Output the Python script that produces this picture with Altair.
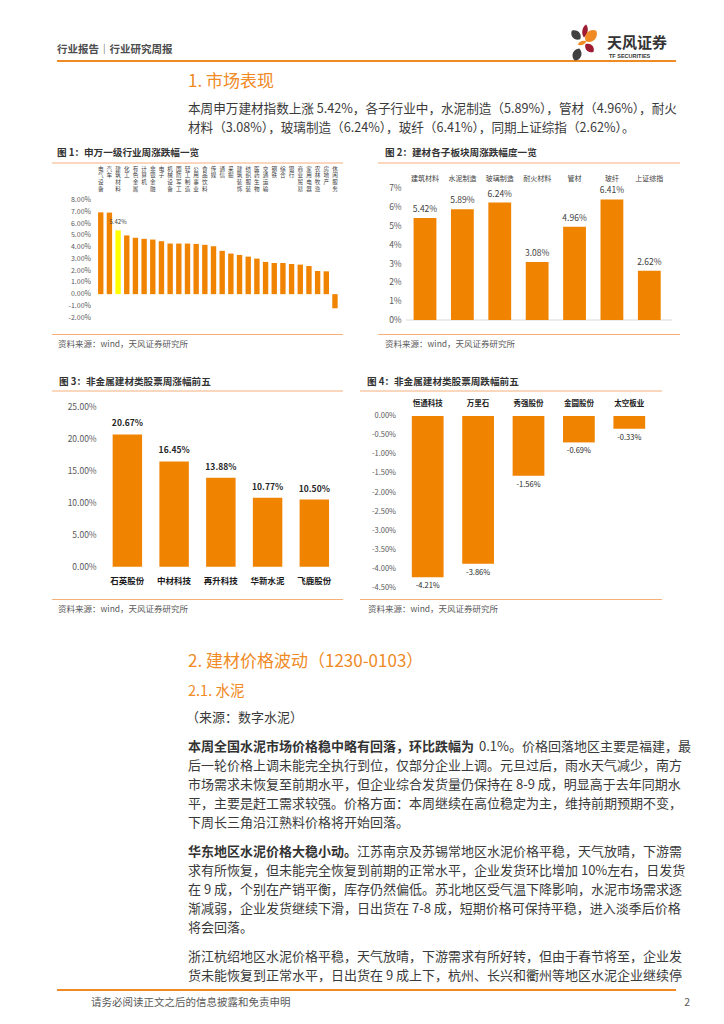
import altair as alt
import pandas as pd

# ---------------- data ----------------
ind_names = ["电气设备", "汽车", "建筑材料", "化工", "有色金属", "计算机", "非银金融", "电子",
             "机械设备", "国防军工", "轻工制造", "公用事业", "食品饮料", "传媒", "通信", "采掘",
             "建筑装饰", "纺织服装", "医药生物", "交通运输", "钢铁", "综合", "银行", "商业贸易",
             "家用电器", "农林牧渔", "房地产", "休闲服务"]
ind_chg = [6.95, 6.93, 5.42, 4.99, 4.79, 4.70, 4.64, 4.50, 4.30, 4.30, 4.30, 4.27, 4.19, 4.07,
           3.68, 3.45, 3.33, 3.19, 3.02, 2.74, 2.65, 2.65, 2.56, 2.51, 2.39, 1.97, 1.94, -1.20]
fig1_ticks = [-2, -1, 0, 1, 2, 3, 4, 5, 6, 7, 8]
fig1_tick_labels = ["-2.00%", "-1.00%", "0.00%", "1.00%", "2.00%", "3.00%", "4.00%", "5.00%",
                    "6.00%", "7.00%", "8.00%"]

sub_names = ["建筑材料", "水泥制造", "玻璃制造", "耐火材料", "管材", "玻纤", "上证综指"]
sub_chg = [5.42, 5.89, 6.24, 3.08, 4.96, 6.41, 2.62]
fig2_ticks = [0, 1, 2, 3, 4, 5, 6, 7]
fig2_tick_labels = ["0%", "1%", "2%", "3%", "4%", "5%", "6%", "7%"]

top_names = ["石英股份", "中材科技", "再升科技", "华新水泥", "飞鹿股份"]
top_chg = [20.67, 16.45, 13.88, 10.77, 10.50]
fig3_ticks = [0, 5, 10, 15, 20, 25]
fig3_tick_labels = ["0.00%", "5.00%", "10.00%", "15.00%", "20.00%", "25.00%"]

bot_names = ["恒通科技", "万里石", "秀强股份", "金圆股份", "太空板业"]
bot_chg = [-4.21, -3.86, -1.56, -0.69, -0.33]
fig4_ticks = [0, -0.5, -1.0, -1.5, -2.0, -2.5, -3.0, -3.5, -4.0, -4.5]
fig4_tick_labels = ["0.00%", "-0.50%", "-1.00%", "-1.50%", "-2.00%", "-2.50%", "-3.00%",
                    "-3.50%", "-4.00%", "-4.50%"]

header_left = "行业报告｜行业研究周报"
brand = "天风证券"
brand_en = "TF SECURITIES"
sec1_title = "1. 市场表现"
sec1_lines = ["本周申万建材指数上涨 5.42%，各子行业中，水泥制造（5.89%），管材（4.96%），耐火",
              "材料（3.08%），玻璃制造（6.24%），玻纤（6.41%），同期上证综指（2.62%）。"]
fig_titles = ["图 1：申万一级行业周涨跌幅一览", "图 2：建材各子板块周涨跌幅度一览",
              "图 3：非金属建材类股票周涨幅前五", "图 4：非金属建材类股票周跌幅前五"]
source_text = "资料来源：wind，天风证券研究所"
sec2_title = "2. 建材价格波动（1230-0103）"
sec21_title = "2.1. 水泥"
sec21_src = "（来源：数字水泥）"
p1_bold = "本周全国水泥市场价格稳中略有回落，环比跌幅为"
p1_lines = ["0.1%。价格回落地区主要是福建，最",
            "后一轮价格上调未能完全执行到位，仅部分企业上调。元旦过后，雨水天气减少，南方",
            "市场需求未恢复至前期水平，但企业综合发货量仍保持在 8-9 成，明显高于去年同期水",
            "平，主要是赶工需求较强。价格方面：本周继续在高位稳定为主，维持前期预期不变，",
            "下周长三角沿江熟料价格将开始回落。"]
p2_bold = "华东地区水泥价格大稳小动。"
p2_lines = ["江苏南京及苏锡常地区水泥价格平稳，天气放晴，下游需",
            "求有所恢复，但未能完全恢复到前期的正常水平，企业发货环比增加 10%左右，日发货",
            "在 9 成，个别在产销平衡，库存仍然偏低。苏北地区受气温下降影响，水泥市场需求逐",
            "渐减弱，企业发货继续下滑，日出货在 7-8 成，短期价格可保持平稳，进入淡季后价格",
            "将会回落。"]
p3_lines = ["浙江杭绍地区水泥价格平稳，天气放晴，下游需求有所好转，但由于春节将至，企业发",
            "货未能恢复到正常水平，日出货在 9 成上下，杭州、长兴和衢州等地区水泥企业继续停"]
footer_text = "请务必阅读正文之后的信息披露和免责申明"
page_no = "2"

# ---------------- styles ----------------
FONT = "Noto Sans CJK SC"
BAR = "#F08300"
HL = "#FFFF00"
ORANGE = "#F08A24"
LINE_LIGHT = "#F6B07A"
TEXT = "#333333"
GRAY = "#595959"
DARKRED = "#9E1B32"
DARK = "#404040"

OX, OY = 8, 8


def X(v):
    return v - OX


def Y(v):
    return v - OY


layers = []


def add_text(s, x, y, size, color=TEXT, weight="normal", align="left", baseline="middle", font=FONT):
    layers.append(
        alt.Chart(pd.DataFrame({"t": [s]}))
        .mark_text(align=align, baseline=baseline, fontSize=size, color=color,
                   fontWeight=weight, font=font)
        .encode(x=alt.value(X(x)), y=alt.value(Y(y)), text="t:N")
    )


def add_rule(x1, x2, y, color, width):
    layers.append(
        alt.Chart(pd.DataFrame({"a": [0]}))
        .mark_rule(color=color, strokeWidth=width)
        .encode(x=alt.value(X(x1)), x2=alt.value(X(x2)), y=alt.value(Y(y)))
    )


# ---------------- header ----------------
add_text(header_left, 57, 50, 10.5, color="#4D4D4D", weight="bold")
add_rule(57, 676, 61, ORANGE, 2)

NARROW = "M0,-1C0.55,-0.55 0.55,0.55 0,1C-0.55,0.55 -0.55,-0.55 0,-1Z"
WIDE = "M0,-1C0.9,-0.6 0.9,0.6 0,1C-0.9,0.6 -0.9,-0.6 0,-1Z"
petals = [
    (585, 31, 13, 10, DARKRED, NARROW),
    (591, 36, 15, 45, ORANGE, WIDE),
    (576, 35, 12, 315, DARK, WIDE),
    (582, 43, 9, 70, ORANGE, NARROW),
    (589.5, 48, 11, 315, DARKRED, WIDE),
    (577, 54.5, 13, 20, DARK, WIDE),
]
for (px, py, ln, ang, col, shp) in petals:
    layers.append(
        alt.Chart(pd.DataFrame({"a": [0]}))
        .mark_point(shape=shp, filled=True, color=col, opacity=1, strokeWidth=0)
        .encode(x=alt.value(X(px)), y=alt.value(Y(py)), size=alt.value(ln * ln),
                angle=alt.value(ang))
    )
add_text(brand, 607, 43, 15, color="#333333", weight="bold")
add_text(brand_en, 609, 56, 5.5, color="#333333", weight="bold", font="Liberation Sans")

# ---------------- section 1 ----------------
add_text(sec1_title, 188, 82, 17, color=ORANGE)
for i, ln in enumerate(sec1_lines):
    add_text(ln, 188, 109 + i * 19, 12.6, color="#3A3A3A")

# figure frames
add_text(fig_titles[0], 57, 153, 9.6, color=TEXT, weight="bold")
add_text(fig_titles[1], 385, 153, 9.6, color=TEXT, weight="bold")
add_rule(52, 343, 163, LINE_LIGHT, 1)
add_rule(378, 680, 163, LINE_LIGHT, 1)
add_rule(52, 343, 334.5, LINE_LIGHT, 1)
add_rule(378, 680, 334.5, LINE_LIGHT, 1)
add_text(source_text, 58, 343.5, 8.5, color=GRAY)
add_text(source_text, 385, 343.5, 8.5, color=GRAY)

add_text(fig_titles[2], 59, 382, 9.6, color=TEXT, weight="bold")
add_text(fig_titles[3], 367, 382, 9.6, color=TEXT, weight="bold")
add_rule(52, 343, 391, LINE_LIGHT, 1)
add_rule(360, 662, 391, LINE_LIGHT, 1)
add_rule(52, 343, 599.5, LINE_LIGHT, 1)
add_rule(360, 662, 599.5, LINE_LIGHT, 1)
add_text(source_text, 58, 608.5, 8.5, color=GRAY)
add_text(source_text, 368, 609, 8.5, color=GRAY)

# ---------------- figure 1 ----------------
df1 = pd.DataFrame({"name": ind_names, "chg": ind_chg})
df1["vlabel"] = ["\n".join(list(n)) for n in ind_names]
df1["lab"] = [f"{v:.2f}%" for v in ind_chg]
t1 = pd.DataFrame({"v": fig1_ticks, "lab": fig1_tick_labels})
xs1 = alt.Scale(domain=ind_names, range=[X(96.4), X(339.3)], paddingInner=0.38, paddingOuter=0.19)
ys1 = alt.Scale(domain=[-2, 8], range=[Y(317.7), Y(200.0)], nice=False, zero=False)
b1 = alt.Chart(df1).mark_bar().encode(
    x=alt.X("name:N", scale=xs1, axis=None, sort=None),
    y=alt.Y("chg:Q", scale=ys1, axis=None),
    color=alt.condition(alt.datum.name == "建筑材料", alt.value(HL), alt.value(BAR)),
)
c1 = alt.Chart(df1).mark_text(baseline="top", align="center", lineBreak="\n", lineHeight=6.8,
                              fontSize=5.6, color=DARK, font=FONT).encode(
    x=alt.X("name:N", scale=xs1, axis=None, sort=None),
    y=alt.value(Y(166.5)),
    text="vlabel:N",
)
k1 = alt.Chart(t1).mark_text(align="right", baseline="middle", fontSize=7, color=GRAY,
                             font=FONT).encode(
    x=alt.value(X(91)), y=alt.Y("v:Q", scale=ys1, axis=None), text="lab:N")
h1 = alt.Chart(df1).transform_filter(alt.datum.name == "建筑材料").mark_text(
    baseline="bottom", align="center", dy=-5, fontSize=6, color=DARK, font=FONT).encode(
    x=alt.X("name:N", scale=xs1, axis=None, sort=None),
    y=alt.Y("chg:Q", scale=ys1, axis=None), text="lab:N")
fig1 = alt.layer(b1, c1, k1, h1)

# ---------------- figure 2 ----------------
df2 = pd.DataFrame({"name": sub_names, "chg": sub_chg})
df2["lab"] = [f"{v:.2f}%" for v in sub_chg]
t2 = pd.DataFrame({"v": fig2_ticks, "lab": fig2_tick_labels})
xs2 = alt.Scale(domain=sub_names, range=[X(406.3), X(668.0)], paddingInner=0.39, paddingOuter=0.195)
ys2 = alt.Scale(domain=[0, 7], range=[Y(320.0), Y(188.3)], nice=False, zero=False)
b2 = alt.Chart(df2).mark_bar(color=BAR).encode(
    x=alt.X("name:N", scale=xs2, axis=None, sort=None),
    y=alt.Y("chg:Q", scale=ys2, axis=None))
v2 = alt.Chart(df2).mark_text(baseline="bottom", align="center", dy=-4, fontSize=8.5,
                              color=DARK, font=FONT).encode(
    x=alt.X("name:N", scale=xs2, axis=None, sort=None),
    y=alt.Y("chg:Q", scale=ys2, axis=None), text="lab:N")
c2 = alt.Chart(df2).mark_text(baseline="middle", align="center", fontSize=7, color=DARK,
                              font=FONT).encode(
    x=alt.X("name:N", scale=xs2, axis=None, sort=None), y=alt.value(Y(179)), text="name:N")
k2 = alt.Chart(t2).mark_text(align="right", baseline="middle", fontSize=8.5, color=GRAY,
                             font=FONT).encode(
    x=alt.value(X(401.7)), y=alt.Y("v:Q", scale=ys2, axis=None), text="lab:N")
r2 = alt.Chart(pd.DataFrame({"v": [0]})).mark_rule(color="#D9D9D9", strokeWidth=1).encode(
    x=alt.value(X(406)), x2=alt.value(X(672)), y=alt.Y("v:Q", scale=ys2, axis=None))
fig2 = alt.layer(r2, b2, v2, c2, k2)

# ---------------- figure 3 ----------------
df3 = pd.DataFrame({"name": top_names, "chg": top_chg})
df3["lab"] = [f"{v:.2f}%" for v in top_chg]
t3 = pd.DataFrame({"v": fig3_ticks, "lab": fig3_tick_labels})
xs3 = alt.Scale(domain=top_names, range=[X(104.0), X(337.7)], paddingInner=0.37, paddingOuter=0.185)
ys3 = alt.Scale(domain=[0, 25], range=[Y(566.7), Y(406.7)], nice=False, zero=False)
b3 = alt.Chart(df3).mark_bar(color=BAR).encode(
    x=alt.X("name:N", scale=xs3, axis=None, sort=None),
    y=alt.Y("chg:Q", scale=ys3, axis=None))
v3 = alt.Chart(df3).mark_text(baseline="bottom", align="center", dy=-6, fontSize=8.5,
                              fontWeight="bold", color="#262626", font=FONT).encode(
    x=alt.X("name:N", scale=xs3, axis=None, sort=None),
    y=alt.Y("chg:Q", scale=ys3, axis=None), text="lab:N")
c3 = alt.Chart(df3).mark_text(baseline="middle", align="center", fontSize=8.5,
                              fontWeight="bold", color="#1A1A1A", font=FONT).encode(
    x=alt.X("name:N", scale=xs3, axis=None, sort=None), y=alt.value(Y(580.7)), text="name:N")
k3 = alt.Chart(t3).mark_text(align="right", baseline="middle", fontSize=8.5, color=GRAY,
                             font=FONT).encode(
    x=alt.value(X(96.7)), y=alt.Y("v:Q", scale=ys3, axis=None), text="lab:N")
fig3 = alt.layer(b3, v3, c3, k3)

# ---------------- figure 4 ----------------
df4 = pd.DataFrame({"name": bot_names, "chg": bot_chg})
df4["lab"] = [f"{v:.2f}%" for v in bot_chg]
t4 = pd.DataFrame({"v": fig4_ticks, "lab": fig4_tick_labels})
xs4 = alt.Scale(domain=bot_names, range=[X(402.5), X(654.5)], paddingInner=0.37, paddingOuter=0.185)
ys4 = alt.Scale(domain=[-4.5, 0], range=[Y(588.3), Y(416.0)], nice=False, zero=False)
b4 = alt.Chart(df4).mark_bar(color=BAR).encode(
    x=alt.X("name:N", scale=xs4, axis=None, sort=None),
    y=alt.Y("chg:Q", scale=ys4, axis=None))
v4 = alt.Chart(df4).mark_text(baseline="top", align="center", dy=5, fontSize=7.5,
                              color="#262626", font=FONT).encode(
    x=alt.X("name:N", scale=xs4, axis=None, sort=None),
    y=alt.Y("chg:Q", scale=ys4, axis=None), text="lab:N")
c4 = alt.Chart(df4).mark_text(baseline="middle", align="center", fontSize=7.5,
                              fontWeight="bold", color="#1A1A1A", font=FONT).encode(
    x=alt.X("name:N", scale=xs4, axis=None, sort=None), y=alt.value(Y(404.3)), text="name:N")
k4 = alt.Chart(t4).mark_text(align="right", baseline="middle", fontSize=7.5, color=GRAY,
                             font=FONT).encode(
    x=alt.value(X(396)), y=alt.Y("v:Q", scale=ys4, axis=None), text="lab:N")
fig4 = alt.layer(b4, v4, c4, k4)

# ---------------- section 2 ----------------
add_text(sec2_title, 188, 662, 17, color=ORANGE)
add_text(sec21_title, 188, 692, 14.5, color=ORANGE)
add_text(sec21_src, 186, 718, 13, color="#3A3A3A")

FS = 13
BODY = "#3A3A3A"
add_text(p1_bold, 188, 747, FS, weight="bold")
add_text(p1_lines[0], 188 + len(p1_bold) * FS + 5, 747, FS, color=BODY)
for i, ln in enumerate(p1_lines[1:]):
    add_text(ln, 188, 766 + i * 19, FS, color=BODY)

add_text(p2_bold, 188, 852, FS, weight="bold")
add_text(p2_lines[0], 188 + len(p2_bold) * FS, 852, FS, color=BODY)
for i, ln in enumerate(p2_lines[1:]):
    add_text(ln, 188, 871 + i * 19, FS, color=BODY)

for i, ln in enumerate(p3_lines):
    add_text(ln, 188, 957 + i * 19, FS, color=BODY)

# ---------------- footer ----------------
add_rule(57, 676, 990, ORANGE, 2)
add_text(footer_text, 91, 1003, 10.5, color=GRAY)
add_text(page_no, 690, 1003, 10.5, color=GRAY, align="right")

chart = (
    alt.layer(*layers, fig1, fig2, fig3, fig4)
    .resolve_scale(x="independent", y="independent")
    .properties(width=708, height=1008, autosize=alt.AutoSizeParams(type="none"), padding=0,
                background="white")
    .configure_view(stroke=None)
)

chart.save("out.html", embed_options={"renderer": "svg", "actions": False})
